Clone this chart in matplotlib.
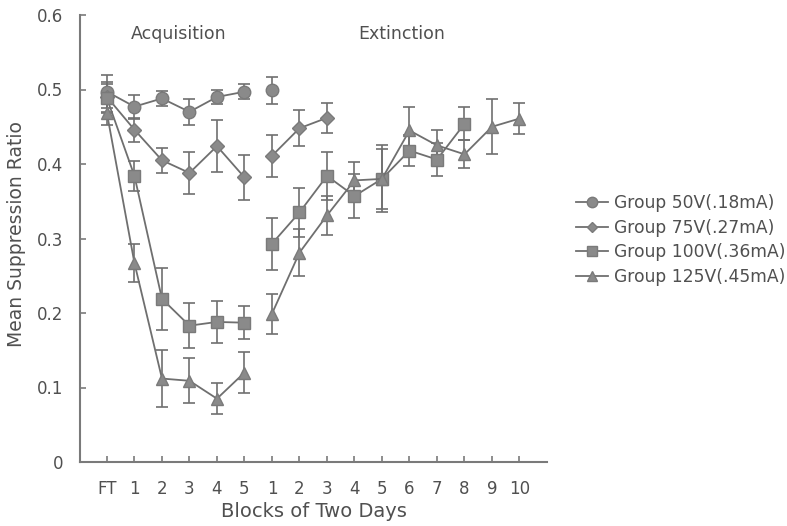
import matplotlib
matplotlib.use("Agg")
import matplotlib.pyplot as plt
import numpy as np

plt.rcParams['font.family'] = ['DejaVu Sans']

tick_labels = ["FT", "1", "2", "3", "4", "5", "1", "2", "3", "4", "5", "6", "7", "8", "9", "10"]

# Acquisition phase (FT, 1-5)
acq_50 = [0.497, 0.477, 0.488, 0.470, 0.490, 0.497]
acq_50_err = [0.022, 0.016, 0.010, 0.017, 0.010, 0.010]
acq_75 = [0.490, 0.446, 0.405, 0.388, 0.424, 0.382]
acq_75_err = [0.020, 0.016, 0.017, 0.028, 0.035, 0.030]
acq_100 = [0.488, 0.384, 0.219, 0.183, 0.188, 0.187]
acq_100_err = [0.020, 0.020, 0.042, 0.030, 0.028, 0.022]
acq_125 = [0.468, 0.267, 0.112, 0.109, 0.085, 0.120]
acq_125_err = [0.015, 0.025, 0.038, 0.030, 0.021, 0.027]

# Extinction phase (blocks 1-10)
ext_50 = [0.499]
ext_50_err = [0.018]
ext_75 = [0.411, 0.448, 0.462]
ext_75_err = [0.028, 0.024, 0.020]
ext_100 = [0.293, 0.335, 0.384, 0.357, 0.380, 0.418, 0.406, 0.454]
ext_100_err = [0.035, 0.033, 0.032, 0.030, 0.045, 0.021, 0.022, 0.022]
ext_125 = [0.199, 0.281, 0.331, 0.378, 0.380, 0.445, 0.425, 0.413, 0.450, 0.461]
ext_125_err = [0.027, 0.032, 0.026, 0.025, 0.040, 0.031, 0.020, 0.019, 0.037, 0.021]

labels = ["Group 50V(.18mA)", "Group 75V(.27mA)", "Group 100V(.36mA)", "Group 125V(.45mA)"]
markers = ["o", "D", "s", "^"]
msizes = [9, 7, 8, 9]

acq = [(acq_50, acq_50_err), (acq_75, acq_75_err), (acq_100, acq_100_err), (acq_125, acq_125_err)]
ext = [(ext_50, ext_50_err), (ext_75, ext_75_err), (ext_100, ext_100_err), (ext_125, ext_125_err)]

line_c = "#6f6f6f"
mark_c = "#8a8a8a"
text_c = "#505050"
axis_c = "#7a7a7a"

fig = plt.figure(figsize=(7.87, 5.26), dpi=100)
ax = fig.add_axes([80 / 787, (526 - 462) / 526, (547 - 80) / 787, (462 - 15) / 526])

handles = []
for i in range(4):
    y, e = acq[i]
    x = np.arange(len(y))
    ax.errorbar(x, y, yerr=e, color=line_c, ecolor=line_c, elinewidth=1.2, capsize=4.5, capthick=1.2,
                marker=markers[i], markersize=msizes[i], markerfacecolor=mark_c, markeredgecolor="#7a7a7a",
                linewidth=1.3, zorder=3)
    y2, e2 = ext[i]
    x2 = 6 + np.arange(len(y2))
    ax.errorbar(x2, y2, yerr=e2, color=line_c, ecolor=line_c, elinewidth=1.2, capsize=4.5, capthick=1.2,
                marker=markers[i], markersize=msizes[i], markerfacecolor=mark_c, markeredgecolor="#7a7a7a",
                linewidth=1.3, zorder=3)
    h, = ax.plot([], [], color=line_c, marker=markers[i], markersize=msizes[i] - 1.5,
                 markerfacecolor=mark_c, markeredgecolor="#7a7a7a", linewidth=1.3)
    handles.append(h)

ax.set_xlim(-0.98, 16.0)
ax.set_ylim(0, 0.6)
ax.set_xticks(np.arange(len(tick_labels)))
ax.set_xticklabels(tick_labels)
ax.set_yticks([0, 0.1, 0.2, 0.3, 0.4, 0.5, 0.6])
ax.set_yticklabels(["0", "0.1", "0.2", "0.3", "0.4", "0.5", "0.6"])
ax.tick_params(axis='both', direction='in', length=4, width=1.2, colors=axis_c, labelcolor=text_c, labelsize=12)
ax.tick_params(axis='y', pad=12)
ax.tick_params(axis='x', pad=13)

for s in ["top", "right"]:
    ax.spines[s].set_visible(False)
for s in ["left", "bottom"]:
    ax.spines[s].set_color(axis_c)
    ax.spines[s].set_linewidth(1.5)

ax.set_xlabel("Blocks of Two Days", fontsize=14, color=text_c, labelpad=3)
ax.set_ylabel("Mean Suppression Ratio", fontsize=13.5, color=text_c)
ax.yaxis.set_label_coords(-54 / 467, 0.51)

ax.text(2.6, 0.574, "Acquisition", fontsize=12.5, color=text_c, ha="center", va="center")
ax.text(10.7, 0.574, "Extinction", fontsize=12.5, color=text_c, ha="center", va="center")

fig.legend(handles, labels, loc="center left", bbox_to_anchor=(576 / 787, 1 - 240 / 526),
           frameon=False, fontsize=12.3, labelcolor=text_c, handlelength=1.9, handletextpad=0.3,
           labelspacing=0.4, borderpad=0, borderaxespad=0)

fig.savefig("out.png", dpi=100)
